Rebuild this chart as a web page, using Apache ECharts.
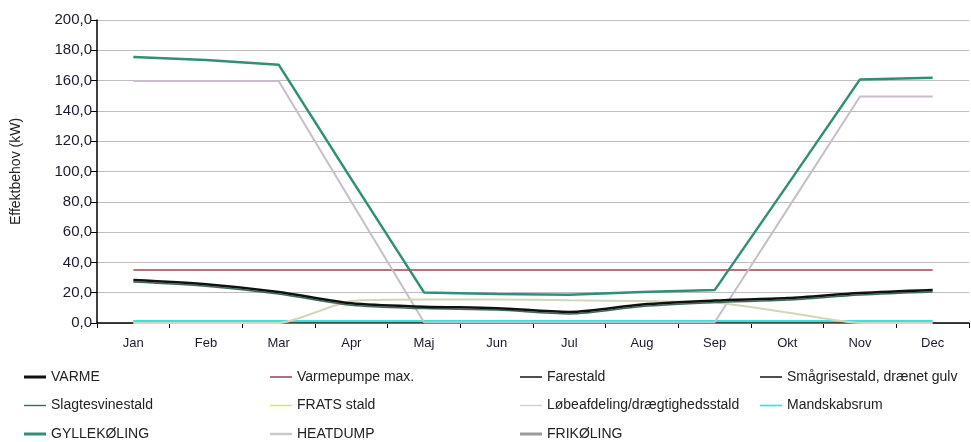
<!DOCTYPE html>
<html><head><meta charset="utf-8">
<script src="https://cdn.jsdelivr.net/npm/echarts@6/dist/echarts.min.js"></script>
<style>html,body{margin:0;padding:0;background:#fff}#c{width:971px;height:442px}</style>
</head><body><div id="c"></div>
<script>
var months = ['Jan','Feb','Mar','Apr','Maj','Jun','Jul','Aug','Sep','Okt','Nov','Dec'];
var yTicks = [0,20,40,60,80,100,120,140,160,180,200];
var varme = [28.4,25.6,20.5,13,10.8,9.8,7.3,12.2,14.8,16.5,19.8,21.8];
var varmepumpeMax = [35,35,35,35,35,35,35,35,35,35,35,35];
var farestald = [0,0,0,0,0,0,0,0,0,0,0,0];
var smaagrise = [0,0,0,0,0,0,0,0,0,0,0,0];
var slagtesvine = [27.1,24.3,19.2,11.7,9.5,8.5,6.0,10.9,13.5,15.2,18.5,20.5];
var frats = [0,0,0,0,0,0,0,0,0,0,0,0];
var loebe = [0,0,0,0,0,0,0,0,0,0,0,0];
var mandskab = [1.3,1.3,1.3,1.3,1.3,1.3,1.3,1.3,1.3,1.3,1.3,1.3];
var gylle = [175.6,173.6,170.5,95,20.2,19.2,18.6,20.4,21.7,91,160.8,161.8];
var heatdump = [159.8,159.8,159.8,80,0.5,0.5,0.5,0.5,0.5,75,149.5,149.5];
var frikoeling = [0,0,0,14.5,15.5,15.5,15,14.5,13.5,7,0,0];

var names = ['VARME','Varmepumpe max.','Farestald','Smågrisestald, drænet gulv','Slagtesvinestald','FRATS stald','Løbeafdeling/drægtighedsstald','Mandskabsrum','GYLLEKØLING','HEATDUMP','FRIKØLING'];
var datas = [varme,varmepumpeMax,farestald,smaagrise,slagtesvine,frats,loebe,mandskab,gylle,heatdump,frikoeling];
var colors = ['#111111','#a3434f','#222222','#222222','#3d6b55','#f2e233','#cfcfcf','#2ee6df','#2f8f77','#c9bccb','#d4d6b8'];
var legendColors = ['#111111','#8a3048','#222222','#222222','#3d6b55','#f2e233','#cfcfcf','#2ee6df','#2f8f77','#c9c9c9','#9a9a9a'];
var widths = [2.5,1.5,1.2,1.2,1.5,1.5,1.5,2,2.5,2,2];
var legendThick = [3,1.4,1.6,1.6,1.4,1.4,1.4,1.6,3,2.4,3];
var smooths = [0.3,false,false,false,0.3,false,false,false,false,false,0.2];
var zorder = [10,3,2,2,9,1,1,4,6,5,7];

var series = names.map(function(n,i){
  return {name:n,type:'line',data:datas[i],symbol:'none',smooth:smooths[i],z:zorder[i],
    lineStyle:{color:colors[i],width:widths[i]},itemStyle:{color:legendColors[i]},animation:false};
});
var legendFont = {fontFamily:'Liberation Sans',fontSize:14,color:'#222'};
function lineIcon(t){
  var a=(14-t)/2, b=a+t;
  return 'path://M0,0 M0,14 M0,'+a+' L22,'+a+' L22,'+b+' L0,'+b+' Z';
}
function col(items,left){
  return {orient:'vertical',left:left,top:370,itemGap:14.5,itemWidth:22,itemHeight:14,
    data:items.map(function(n){var i=names.indexOf(n);
      return {name:n,icon:lineIcon(legendThick[i]),itemStyle:{color:legendColors[i],borderWidth:0}};}),
    textStyle:legendFont,selectedMode:false,padding:0};
}
var option = {
  animation:false,
  grid:{left:97,right:2,top:20,bottom:119,containLabel:false},
  legend:[
    col(['VARME','Slagtesvinestald','GYLLEKØLING'],24),
    col(['Varmepumpe max.','FRATS stald','HEATDUMP'],270),
    col(['Farestald','Løbeafdeling/drægtighedsstald','FRIKØLING'],520),
    col(['Smågrisestald, drænet gulv','Mandskabsrum'],760)
  ],
  xAxis:{type:'category',data:months,boundaryGap:true,
    axisLine:{lineStyle:{color:'#000',width:1.5}},
    axisTick:{show:true,length:5,lineStyle:{color:'#000'},alignWithLabel:false},
    axisLabel:{fontFamily:'Liberation Sans',fontSize:13,color:'#1a1a2e',margin:14}},
  yAxis:{type:'value',min:0,max:200,interval:20,
    name:'Effektbehov (kW)',nameLocation:'middle',nameGap:74,nameRotate:90,
    nameTextStyle:{fontFamily:'Liberation Sans',fontSize:14,color:'#222'},
    axisLine:{show:true,lineStyle:{color:'#000',width:1.5}},
    axisTick:{show:true,length:6,lineStyle:{color:'#000'}},
    splitLine:{lineStyle:{color:'#bdbdbd',width:1}},
    axisLabel:{fontFamily:'Liberation Sans',fontSize:15,color:'#1a1a2e',margin:5,
      formatter:function(v){return yTicks.indexOf(v)>=0? v.toFixed(1).replace('.',','):'';}}},
  series:series
};
var ch = echarts.init(document.getElementById('c'),null,{renderer:'canvas'});
ch.setOption(option);
</script></body></html>
